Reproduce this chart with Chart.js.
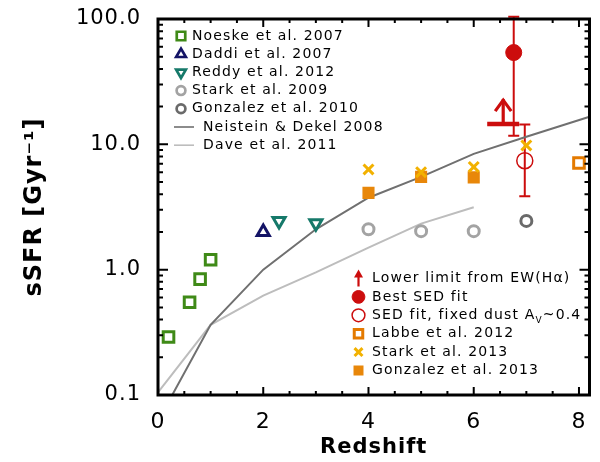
<!DOCTYPE html>
<html>
<head>
<meta charset="utf-8">
<script src="https://cdn.jsdelivr.net/npm/chart.js@4.4.0/dist/chart.umd.min.js"></script>
<style>
html,body{margin:0;padding:0;background:#fff;}
canvas{display:block;}
</style>
</head>
<body>
<canvas id="c" width="600" height="462"></canvas>
<script>
// ---------------- data ----------------
const xTickValues = [0, 2, 4, 6, 8];
const xTickLabels = ['0', '2', '4', '6', '8'];
const yTickValues = [0.1, 1, 10, 100];
const yTickLabels = ['0.1', '1.0', '10.0', '100.0'];

const noeskeZ = [0.2, 0.6, 0.8, 1.0];
const noeskeSSFR = [0.29, 0.55, 0.84, 1.2];
const daddiZ = [2.0];
const daddiSSFR = [2.0];
const reddyZ = [2.3, 3.0];
const reddySSFR = [2.45, 2.35];
const stark09Z = [4, 5, 6];
const stark09SSFR = [2.1, 2.03, 2.03];
const gonz10Z = [7];
const gonz10SSFR = [2.45];
const neisteinZ = [0, 1, 2, 3, 4, 5, 6, 7, 8.2];
const neisteinSSFR = [0.062, 0.363, 1.0, 2.1, 3.75, 5.5, 8.4, 11.5, 16.6];
const daveZ = [0, 1, 2, 3, 4, 5, 6];
const daveSSFR = [0.105, 0.363, 0.62, 0.95, 1.5, 2.33, 3.15];

const lowerLimitZ = [6.56];
const lowerLimitSSFR = [14.5];
const bestZ = [6.76];
const bestSSFR = [54];
const bestLow = [11.7];
const bestHigh = [104];
const fixedZ = [6.97];
const fixedSSFR = [7.4];
const fixedLow = [3.85];
const fixedHigh = [14.4];
const labbeZ = [8.0];
const labbeSSFR = [7.1];
const stark13Z = [4, 5, 6, 7];
const stark13SSFR = [6.3, 6.0, 6.6, 9.8];
const gonz13Z = [4, 5, 6];
const gonz13SSFR = [4.1, 5.5, 5.45];

const legendLeft = ['Noeske et al. 2007', 'Daddi et al. 2007', 'Reddy et al. 2012', 'Stark et al. 2009',
  'Gonzalez et al. 2010', 'Neistein & Dekel 2008', 'Dave et al. 2011'];
const legendRight = ['Lower limit from EW(H\u03B1)', 'Best SED fit', 'SED fit, fixed dust A', 'Labbe et al. 2012',
  'Stark et al. 2013', 'Gonzalez et al. 2013'];

// ---------------- colours ----------------
const C = {
  green: '#3f8a17', navy: '#141466', teal: '#16796a', ltgray: '#a3a3a3', dkgray: '#6a6a6a',
  lineDark: '#707070', lineLight: '#bdbdbd', red: '#cc0d0d', orange: '#e47a00', yellow: '#f2b100', orange2: '#e8870a'
};

const pts = (xs, ys) => xs.map((x, i) => ({x: x, y: ys[i]}));

const datasets = [
  {label: legendRight[1], data: pts(bestZ, bestSSFR), pointStyle: 'circle', radius: 8, backgroundColor: C.red, borderColor: C.red, borderWidth: 1},
  {label: legendRight[2], data: pts(fixedZ, fixedSSFR), pointStyle: 'circle', radius: 8, backgroundColor: 'rgba(0,0,0,0)', borderColor: C.red, borderWidth: 1.5},
  {label: legendRight[3], data: pts(labbeZ, labbeSSFR), pointStyle: 'rect', radius: 7.5, backgroundColor: '#fff', borderColor: C.orange, borderWidth: 3},
  {label: legendRight[4], data: pts(stark13Z, stark13SSFR), pointStyle: 'crossRot', radius: 7, backgroundColor: C.yellow, borderColor: C.yellow, borderWidth: 3},
  {label: legendRight[5], data: pts(gonz13Z, gonz13SSFR), pointStyle: 'rect', radius: 7.5, backgroundColor: C.orange2, borderColor: C.orange2, borderWidth: 1.5},
  {label: legendLeft[0], data: pts(noeskeZ, noeskeSSFR), pointStyle: 'rect', radius: 7.5, backgroundColor: '#fff', borderColor: C.green, borderWidth: 3},
  {label: legendLeft[1], data: pts(daddiZ, daddiSSFR), pointStyle: 'triangle', radius: 7, backgroundColor: '#fff', borderColor: C.navy, borderWidth: 3},
  {label: legendLeft[2], data: pts(reddyZ, reddySSFR), pointStyle: 'triangle', rotation: 180, radius: 7, backgroundColor: '#fff', borderColor: C.teal, borderWidth: 3},
  {label: legendLeft[3], data: pts(stark09Z, stark09SSFR), pointStyle: 'circle', radius: 5.5, backgroundColor: '#fff', borderColor: C.ltgray, borderWidth: 3},
  {label: legendLeft[4], data: pts(gonz10Z, gonz10SSFR), pointStyle: 'circle', radius: 5.5, backgroundColor: '#fff', borderColor: C.dkgray, borderWidth: 3},
  {label: legendLeft[5], data: pts(neisteinZ, neisteinSSFR), showLine: true, borderColor: C.lineDark, borderWidth: 2, radius: 0, pointStyle: 'line'},
  {label: legendLeft[6], data: pts(daveZ, daveSSFR), showLine: true, borderColor: C.lineLight, borderWidth: 2, radius: 0, pointStyle: 'line'}
];

const FONT = '"DejaVu Sans", "Liberation Sans", sans-serif';

function upArrow(ctx, x, yBase, len, head, lw, color) {
  ctx.strokeStyle = color; ctx.lineWidth = lw; ctx.lineCap = 'butt';
  ctx.beginPath(); ctx.moveTo(x, yBase); ctx.lineTo(x, yBase - len); ctx.stroke();
  ctx.beginPath();
  ctx.moveTo(x - head, yBase - len + head * 1.5);
  ctx.lineTo(x, yBase - len + 1);
  ctx.lineTo(x + head, yBase - len + head * 1.5);
  ctx.stroke();
}

const decor = {
  id: 'decor',
  beforeDraw(chart) {
    chart.ctx.letterSpacing = '1px';
  },
  beforeDatasetsDraw(chart) {
    const {ctx, scales: {x, y}} = chart;
    ctx.save();
    ctx.strokeStyle = C.red; ctx.lineWidth = 2;
    const bars = [[bestZ, bestLow, bestHigh], [fixedZ, fixedLow, fixedHigh]];
    bars.forEach(([zs, lo, hi]) => {
      zs.forEach((z, i) => {
        const px = x.getPixelForValue(z), p1 = y.getPixelForValue(lo[i]), p2 = y.getPixelForValue(hi[i]);
        ctx.beginPath();
        ctx.moveTo(px, p1); ctx.lineTo(px, p2);
        ctx.moveTo(px - 5.5, p1); ctx.lineTo(px + 5.5, p1);
        ctx.moveTo(px - 5.5, p2); ctx.lineTo(px + 5.5, p2);
        ctx.stroke();
      });
    });
    ctx.restore();
  },
  afterDatasetsDraw(chart) {
    const {ctx, scales: {x, y}} = chart;
    ctx.save();
    lowerLimitZ.forEach((z, i) => {
      const px = x.getPixelForValue(z), py = y.getPixelForValue(lowerLimitSSFR[i]);
      ctx.strokeStyle = C.red; ctx.lineWidth = 4.5;
      ctx.beginPath(); ctx.moveTo(px - 16, py); ctx.lineTo(px + 16, py); ctx.stroke();
      upArrow(ctx, px, py, 25, 8, 3.2, C.red);
    });
    ctx.restore();
  },
  afterDraw(chart) {
    const {ctx, chartArea: a, scales: {x, y}} = chart;
    ctx.save();
    ctx.strokeStyle = '#000';
    ctx.lineWidth = 2;
    ctx.beginPath();
    for (let v = 0; v <= 8.2 + 1e-9; v += 0.5) {
      const px = x.getPixelForValue(v);
      const major = xTickValues.some(t => Math.abs(t - v) < 1e-6);
      const L = major ? 8 : 4;
      ctx.moveTo(px, a.bottom); ctx.lineTo(px, a.bottom - L);
      ctx.moveTo(px, a.top); ctx.lineTo(px, a.top + L);
    }
    [0.1, 1, 10].forEach(d => {
      for (let k = 1; k <= 10; k++) {
        const v = d * k;
        const py = y.getPixelForValue(v);
        const major = (k === 1 || k === 10);
        const L = major ? 10 : 5;
        ctx.moveTo(a.left, py); ctx.lineTo(a.left + L, py);
        ctx.moveTo(a.right, py); ctx.lineTo(a.right - L, py);
      }
    });
    ctx.stroke();
    ctx.lineWidth = 3;
    ctx.strokeRect(a.left, a.top, a.right - a.left, a.bottom - a.top);

    // legends
    ctx.font = '14px ' + FONT;
    ctx.letterSpacing = '1.15px';
    ctx.textBaseline = 'middle';
    ctx.textAlign = 'left';
    const H = Chart.helpers;
    const leftY0 = a.top + 17, leftDy = 18.2;
    legendLeft.forEach((lab, i) => {
      const ly = leftY0 + i * leftDy;
      const ds = chart.data.datasets.find(d => d.label === lab);
      if (ds.showLine) {
        ctx.strokeStyle = ds.borderColor; ctx.lineWidth = 1.6;
        ctx.beginPath(); ctx.moveTo(a.left + 16, ly); ctx.lineTo(a.left + 36, ly); ctx.stroke();
        ctx.fillStyle = '#000';
        ctx.fillText(lab, a.left + 45, ly);
      } else {
        ctx.fillStyle = ds.backgroundColor; ctx.strokeStyle = ds.borderColor; ctx.lineWidth = ds.borderWidth * 0.9;
        H.drawPoint(ctx, {pointStyle: ds.pointStyle, radius: ds.radius * 0.8, rotation: ds.rotation || 0,
          borderWidth: ds.borderWidth * 0.9}, a.left + 23, ly);
        ctx.fillStyle = '#000';
        ctx.fillText(lab, a.left + 34, ly);
      }
    });
    const rY0 = 278.5, rDy = 18.4, mx = 358.5, tx = 372;
    legendRight.forEach((lab, i) => {
      const ly = rY0 + i * rDy;
      if (i === 0) {
        ctx.strokeStyle = C.red; ctx.fillStyle = C.red; ctx.lineWidth = 2.2;
        ctx.beginPath(); ctx.moveTo(mx, ly + 8); ctx.lineTo(mx, ly - 3); ctx.stroke();
        ctx.beginPath(); ctx.moveTo(mx - 4.5, ly - 1); ctx.lineTo(mx, ly - 9); ctx.lineTo(mx + 4.5, ly - 1); ctx.closePath(); ctx.fill();
      } else {
        const ds = chart.data.datasets.find(d => d.label === lab);
        ctx.fillStyle = ds.backgroundColor;
        ctx.strokeStyle = ds.borderColor; ctx.lineWidth = ds.borderWidth;
        H.drawPoint(ctx, {pointStyle: ds.pointStyle, radius: ds.radius * 0.8, rotation: 0,
          borderWidth: ds.borderWidth}, mx, ly);
      }
      ctx.fillStyle = '#000';
      ctx.fillText(lab, tx, ly);
      if (i === 2) {
        const w = ctx.measureText(lab).width;
        ctx.font = '9px ' + FONT;
        ctx.fillText('V', tx + w, ly + 5);
        const w2 = ctx.measureText('V').width;
        ctx.font = '14px ' + FONT;
        ctx.fillText('~0.4', tx + w + w2, ly);
      }
    });
    ctx.restore();
  }
};

new Chart(document.getElementById('c'), {
  type: 'scatter',
  data: {datasets: datasets},
  options: {
    responsive: false,
    animation: false,
    devicePixelRatio: 1,
    layout: {padding: {left: 10, right: 9, top: 19, bottom: 0}},
    plugins: {legend: {display: false}, tooltip: {enabled: false}},
    scales: {
      x: {
        type: 'linear', min: 0, max: 8.2,
        afterBuildTicks: s => { s.ticks = xTickValues.map(v => ({value: v})); },
        afterFit: s => { s.height = 67; s.paddingLeft = 0; s.paddingRight = 0; },
        grid: {display: false, drawTicks: false},
        border: {display: false},
        ticks: {callback: (v, i) => xTickLabels[i], color: '#000', font: {family: FONT, size: 22}, padding: 14, maxRotation: 0},
        title: {display: true, text: 'Redshift', color: '#000', font: {family: FONT, size: 21, weight: 'bold'}, padding: {top: 0, bottom: 2}}
      },
      y: {
        type: 'logarithmic', min: 0.1, max: 100,
        afterBuildTicks: s => { s.ticks = yTickValues.map(v => ({value: v})); },
        afterFit: s => { s.width = 148; s.paddingTop = 0; s.paddingBottom = 0; },
        grid: {display: false, drawTicks: false},
        border: {display: false},
        ticks: {callback: (v, i) => yTickLabels[i], color: '#000', font: {family: FONT, size: 21}, padding: 17},
        title: {display: true, text: 'sSFR [Gyr\u207B\u00B9]', color: '#000', font: {family: FONT, size: 24, weight: 'bold'}, padding: {top: 10, bottom: 0}}
      }
    }
  },
  plugins: [decor]
});
</script>
</body>
</html>
